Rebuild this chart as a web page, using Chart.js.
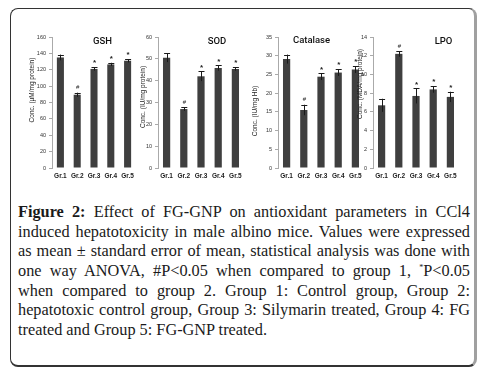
<!DOCTYPE html>
<html>
<head>
<meta charset="utf-8">
<script src="https://cdn.jsdelivr.net/npm/chart.js@4.4.1/dist/chart.umd.min.js"></script>
<style>
  body { margin: 0; background: #fff; width: 486px; height: 378px; overflow: hidden; position: relative; }
  #box { position: absolute; left: 10px; top: 8px; width: 463px; height: 356px;
         border: 1px solid #333; border-right: 3px solid #a0a0a0; border-bottom: 2px solid #333;
         border-radius: 8px; background: #fff; }
  canvas { position: absolute; }
  #caption { position: absolute; left: 18px; top: 202px; width: 452px;
             font-family: "Liberation Serif", serif; font-size: 16.3px; line-height: 19.7px; color: #1a1a1a; }
  #caption div { text-align: justify; text-align-last: justify; white-space: nowrap; height: 19.7px; }
  #caption div.last { text-align-last: left; }
  #caption sup { font-size: 8px; line-height: 0; vertical-align: 6px; }
</style>
</head>
<body>
<div id="box"></div>
<canvas id="c0"></canvas>
<canvas id="c1"></canvas>
<canvas id="c2"></canvas>
<canvas id="c3"></canvas>
<div id="caption">
  <div><b>Figure 2:</b> Effect of FG-GNP on antioxidant parameters in CCl4</div>
  <div>induced hepatotoxicity in male albino mice. Values were expressed</div>
  <div>as mean ± standard error of mean, statistical analysis was done with</div>
  <div>one way ANOVA, #P&lt;0.05 when compared to group 1, <sup>*</sup>P&lt;0.05</div>
  <div>when compared to group 2. Group 1: Control group, Group 2:</div>
  <div>hepatotoxic control group, Group 3: Silymarin treated, Group 4: FG</div>
  <div class="last">treated and Group 5: FG-GNP treated.</div>
</div>
<script>
// data
const groups = ['Gr.1', 'Gr.2', 'Gr.3', 'Gr.4', 'Gr.5'];
const sigMarks = ['', '#', '*', '*', '*'];

const gshMean = [135, 89.5, 121, 126.5, 131];
const gshErr = [3.5, 2.5, 2, 2, 2];
const sodMean = [50.5, 27, 42, 45.8, 45.4];
const sodErr = [2, 0.8, 2.2, 1.2, 0.8];
const catMean = [29.1, 15.5, 24.4, 25.5, 26.3];
const catErr = [1.2, 1.4, 0.9, 0.9, 0.9];
const lpoMean = [6.7, 12.2, 7.7, 8.4, 7.6];
const lpoErr = [0.7, 0.3, 0.8, 0.35, 0.55];

const panelTitles = ['GSH', 'SOD', 'Catalase', 'LPO'];
const yTitles = ['Conc. (\u00b5M/mg protein)', 'Conc. (IU/mg protein)', 'Conc. (IU/mg Hb)', 'Conc. (MDA/mg protein)'];
const yMax = [160, 60, 35, 14];
const yStep = [20, 10, 5, 2];
const means = [gshMean, sodMean, catMean, lpoMean];
const errs = [gshErr, sodErr, catErr, lpoErr];

// layout (page pixels)
const axisX = [51.5, 158, 277.5, 372.5];
const plotW = [84, 86.5, 86, 86];
const yTitleX = [32, 143, 255, 360];
const yTitleY = [90, 97, 111, 84];
const titleX = [102, 217, 311, 443];
const titleY = [42, 42, 41, 42];
const yW = 40, panelTop = 25, panelH = 165;

const extras = {
  id: 'extras',
  afterDatasetsDraw(chart, args, o) {
    const ctx = chart.ctx;
    const y = chart.scales.y;
    const ds = chart.data.datasets[0];
    const meta = chart.getDatasetMeta(0);
    ctx.save();
    meta.data.forEach((bar, i) => {
      const hi = y.getPixelForValue(ds.data[i] + ds.err[i]);
      const lo = y.getPixelForValue(ds.data[i] - ds.err[i]);
      ctx.strokeStyle = '#1a1a1a';
      ctx.lineWidth = 1;
      ctx.beginPath();
      ctx.moveTo(Math.round(bar.x) + 0.5, lo);
      ctx.lineTo(Math.round(bar.x) + 0.5, hi);
      ctx.moveTo(bar.x - 2.5, Math.round(hi) + 0.5);
      ctx.lineTo(bar.x + 3.5, Math.round(hi) + 0.5);
      ctx.stroke();
      if (sigMarks[i]) {
        ctx.fillStyle = '#222';
        ctx.textAlign = 'center';
        ctx.textBaseline = 'bottom';
        ctx.font = (sigMarks[i] === '*' ? 'bold 8px' : '6px') + ' "Liberation Sans"';
        ctx.fillText(sigMarks[i], bar.x + 0.5, hi - (sigMarks[i] === '*' ? 0 : 2));
      }
    });
    // panel title
    ctx.fillStyle = '#111';
    ctx.textAlign = 'center';
    ctx.textBaseline = 'middle';
    ctx.font = '500 9.5px Roboto';
    ctx.fillText(o.title, o.tx, o.ty);
    // y title
    ctx.translate(o.yx, o.yy);
    ctx.rotate(-Math.PI / 2);
    ctx.font = '6.5px "Liberation Sans"';
    ctx.fillStyle = '#222';
    ctx.fillText(o.ytitle, 0, 0);
    ctx.restore();
  }
};

for (let k = 0; k < 4; k++) {
  const cv = document.getElementById('c' + k);
  const left = axisX[k] - yW;
  const W = yW + plotW[k] + 4;
  cv.width = W; cv.height = panelH;
  cv.style.left = left + 'px';
  cv.style.top = panelTop + 'px';
  new Chart(cv, {
    type: 'bar',
    data: {
      labels: groups,
      datasets: [{
        data: means[k],
        err: errs[k],
        backgroundColor: '#3f3f3f',
        borderWidth: 0,
        barPercentage: 0.42,
        categoryPercentage: 1
      }]
    },
    options: {
      responsive: false,
      devicePixelRatio: 1,
      animation: false,
      layout: { padding: { top: 12, bottom: 8, left: 0, right: 4 } },
      plugins: {
        legend: { display: false },
        tooltip: { enabled: false },
        extras: {
          title: panelTitles[k], tx: titleX[k] - left, ty: titleY[k] - panelTop,
          ytitle: yTitles[k], yx: yTitleX[k] - left, yy: yTitleY[k] - panelTop
        }
      },
      scales: {
        x: {
          grid: { display: false, drawTicks: false },
          border: { display: false },
          ticks: { padding: 4, color: '#222', font: { family: 'Liberation Sans', size: 6.5, weight: 'bold' }, maxRotation: 0 },
          afterFit: s => { s.height = 14; }
        },
        y: {
          min: 0, max: yMax[k],
          grid: { drawOnChartArea: false, drawTicks: true, tickLength: 3, color: '#aaa' },
          border: { display: true, color: '#aaa', width: 1 },
          ticks: { stepSize: yStep[k], padding: 3, color: '#333', font: { family: 'Liberation Sans', size: 5.5 } },
          afterFit: s => { s.width = yW; }
        }
      }
    },
    plugins: [extras]
  });
}
</script>
</body>
</html>
